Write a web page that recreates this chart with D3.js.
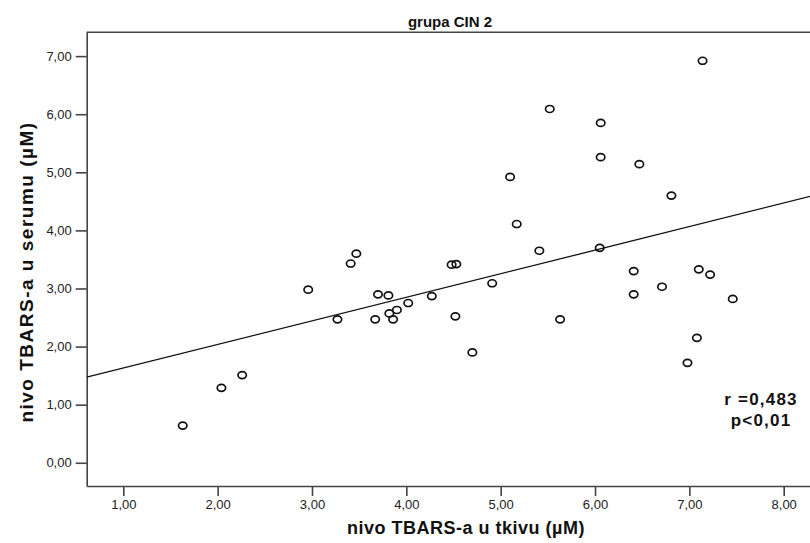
<!DOCTYPE html>
<html>
<head>
<meta charset="utf-8">
<script src="https://cdn.jsdelivr.net/npm/d3@7/dist/d3.min.js"></script>
<style>
  html, body { margin: 0; padding: 0; background: #fff; }
  svg { display: block; }
  text { font-family: Arial, "Liberation Sans", sans-serif; }
</style>
</head>
<body>
<div id="chart"></div>
<script>
// TBARS level in tissue (x) vs serum (y), group CIN 2
const tissue = [1.63, 2.04, 2.26, 2.96, 3.27, 3.41, 3.47, 3.67, 3.70, 3.81,
                3.82, 3.86, 3.90, 4.02, 4.27, 4.48, 4.53, 4.52, 4.70, 4.91,
                5.10, 5.17, 5.41, 5.52, 5.63, 6.05, 6.06, 6.06, 6.41, 6.41,
                6.47, 6.71, 6.81, 6.98, 7.08, 7.10, 7.14, 7.22, 7.46];
const serum  = [0.64, 1.29, 1.51, 2.98, 2.47, 3.43, 3.60, 2.47, 2.90, 2.88,
                2.57, 2.47, 2.63, 2.75, 2.87, 3.41, 3.42, 2.52, 1.90, 3.09,
                4.92, 4.11, 3.65, 6.09, 2.47, 3.70, 5.85, 5.26, 3.30, 2.90,
                5.14, 3.03, 4.60, 1.72, 2.15, 3.33, 6.92, 3.24, 2.82];

// Linear fit line: serum = intercept + slope * tissue
const fitIntercept = 1.225;
const fitSlope = 0.4058;

const xTicks = [1, 2, 3, 4, 5, 6, 7, 8];
const yTicks = [0, 1, 2, 3, 4, 5, 6, 7];

const chartTitle = "grupa CIN 2";
const xTitle = "nivo TBARS-a u tkivu (µM)";
const yTitle = "nivo TBARS-a u serumu (µM)";
const statLines = ["r =0,483", "p<0,01"];

const W = 810, H = 543;
const plot = { left: 86.7, top: 32.3, right: 812, bottom: 486 };

const svg = d3.select("#chart").append("svg")
  .attr("width", W).attr("height", H);

const x = d3.scaleLinear().domain([0.612, 8.30]).range([plot.left, plot.right]);
const y = d3.scaleLinear().domain([-0.40, 7.41]).range([plot.bottom, plot.top]);

const fmt = v => d3.format(".2f")(v).replace(".", ",");

// axes
const xAxis = svg.append("g")
  .attr("transform", `translate(0,${plot.bottom})`)
  .call(d3.axisBottom(x).tickValues(xTicks).tickFormat(fmt).tickSize(10).tickSizeOuter(0).tickPadding(4));
const yAxis = svg.append("g")
  .attr("transform", `translate(${plot.left},0)`)
  .call(d3.axisLeft(y).tickValues(yTicks).tickFormat(fmt).tickSize(11).tickSizeOuter(0).tickPadding(4));

[xAxis, yAxis].forEach(g => {
  g.select(".domain").attr("stroke", "#444").attr("stroke-width", 1.6);
  g.selectAll(".tick line").attr("stroke", "#444").attr("stroke-width", 1.6);
  g.selectAll(".tick text").attr("fill", "#222").style("font-size", "13px");
});

// frame top edge
svg.append("line")
  .attr("x1", plot.left).attr("x2", plot.right)
  .attr("y1", plot.top).attr("y2", plot.top)
  .attr("stroke", "#444").attr("stroke-width", 1.6);

// fit line
svg.append("clipPath").attr("id", "plotClip")
  .append("rect").attr("x", plot.left).attr("y", plot.top)
  .attr("width", plot.right - plot.left).attr("height", plot.bottom - plot.top);

const xd = x.domain();
svg.append("line")
  .attr("clip-path", "url(#plotClip)")
  .attr("x1", x(xd[0])).attr("y1", y(fitIntercept + fitSlope * xd[0]))
  .attr("x2", x(xd[1])).attr("y2", y(fitIntercept + fitSlope * xd[1]))
  .attr("stroke", "#111").attr("stroke-width", 1.3);

// points
svg.append("g").selectAll("ellipse")
  .data(tissue.map((t, i) => [t, serum[i]]))
  .join("ellipse")
  .attr("cx", d => x(d[0]))
  .attr("cy", d => y(d[1]))
  .attr("rx", 4.2).attr("ry", 3.5)
  .attr("fill", "none")
  .attr("stroke", "#111")
  .attr("stroke-width", 1.7);

// titles
svg.append("text")
  .attr("x", 450).attr("y", 27)
  .attr("text-anchor", "middle")
  .style("font-size", "15px").style("font-weight", "bold").attr("fill", "#111")
  .text(chartTitle);

svg.append("text")
  .attr("x", 466).attr("y", 534)
  .attr("text-anchor", "middle")
  .style("font-size", "18px").style("font-weight", "bold").attr("fill", "#111")
  .style("letter-spacing", "0.5px")
  .text(xTitle);

svg.append("text")
  .attr("transform", "translate(33,272) rotate(-90)")
  .attr("text-anchor", "middle")
  .style("font-size", "19px").style("font-weight", "bold").attr("fill", "#111")
  .style("letter-spacing", "1.5px")
  .text(yTitle);

// correlation annotation
svg.append("g").selectAll("text")
  .data(statLines)
  .join("text")
  .attr("x", 761)
  .attr("y", (d, i) => 405 + i * 21)
  .attr("text-anchor", "middle")
  .style("font-size", "17px").style("font-weight", "bold").attr("fill", "#111")
  .style("letter-spacing", "1.2px")
  .text(d => d);
</script>
</body>
</html>
